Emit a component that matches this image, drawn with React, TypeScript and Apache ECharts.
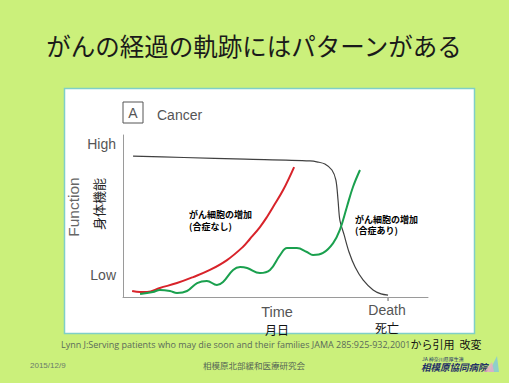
import React, { useEffect, useRef } from "react";
import * as echarts from "echarts";

const titleText = "がんの経過の軌跡にはパターンがある";
const panelLabel = "A";
const panelTitle = "Cancer";
const yHigh = "High";
const yLow = "Low";
const yName = "Function";
const yNameJa = "身体機能";
const xTime = "Time";
const xTimeJa = "月日";
const xDeath = "Death";
const xDeathJa = "死亡";
const noteLeft = ["がん細胞の増加", "(合症なし)"];
const noteRight = ["がん細胞の増加", "(合症あり)"];
const sourceEn = "Lynn J:Serving patients who may die soon and their families JAMA 285:925-932,2001";
const sourceJa = "から引用  改変";
const dateText = "2015/12/9";
const orgText = "相模原北部緩和医療研究会";
const hospitalSmall = "JA 神奈川県厚生連";
const hospitalName = "相模原協同病院";

// trajectory [time, function]
const blackLine = [
  [3.3, 87.0], [20, 86.1], [40, 85.1], [61.3, 84.0], [63.9, 83.3], [66.2, 82.1],
  [68.5, 78.4], [69.8, 72.2], [70.5, 59.9], [71.1, 47.5], [72.5, 38.3],
  [74.1, 27.8], [76.1, 18.5], [78.7, 10.5], [82.0, 4.3], [84.6, 1.9], [86.9, 1.2],
];
const redLine = [
  [3.0, 3.7], [5.6, 3.1], [7.9, 3.1], [12.1, 5.6], [17.7, 8.6], [23.0, 12.3],
  [28.5, 16.7], [34.1, 22.8], [39.3, 30.9], [41.6, 35.8], [44.9, 43.2],
  [47.2, 49.4], [49.2, 55.6], [52.5, 66.0], [56.1, 80.2],
];
const greenLine = [
  [5.6, 1.9], [9.8, 3.1], [12.1, 4.3], [15.4, 3.7], [17.7, 2.5], [21.0, 3.7],
  [24.3, 8.6], [27.5, 9.9], [30.8, 7.4], [32.8, 9.3], [36.1, 16.7], [38.4, 18.5],
  [40.7, 17.9], [44.9, 14.8], [48.2, 16.7], [51.5, 25.9], [53.8, 30.2],
  [57.0, 30.2], [60.3, 27.8], [62.3, 25.9], [65.6, 27.2], [68.9, 33.3],
  [71.1, 41.4], [73.4, 55.6], [75.4, 67.9], [77.7, 78.4],
];
const deathTime = 86.9;

const JP = "'Noto Sans CJK JP', sans-serif";
const LAT = "'Liberation Sans', Arial, sans-serif";

export default function App() {
  const ref = useRef<HTMLDivElement>(null);
  useEffect(() => {
    const chart = echarts.init(ref.current!, null, { renderer: "svg" });
    const gridLeft = 123, gridRight = 81, gridTop = 135, gridBottom = 86;
    const W = 509, H = 383;
    const plotW = W - gridLeft - gridRight;
    const axisY = H - gridBottom;
    const deathX = gridLeft + (deathTime / 100) * plotW;
    const noteRich = { n: { font: `bold 9px ${JP}`, fill: "#000", lineHeight: 11.5 } };
    const txt = (x: number, y: number, text: string, font: string, fill: string,
      align = "center") => ({
      type: "text", x, y,
      style: { text, font, fill, textAlign: align, textVerticalAlign: "middle" },
    });
    chart.setOption({
      animation: false,
      backgroundColor: "#cbf07b",
      grid: { left: gridLeft, right: gridRight, top: gridTop, bottom: gridBottom },
      xAxis: {
        type: "value", min: 0, max: 100,
        axisLine: { show: true, lineStyle: { color: "#9a9a9a", width: 1 } },
        axisTick: { show: false }, axisLabel: { show: false }, splitLine: { show: false },
      },
      yAxis: {
        type: "value", min: 0, max: 100,
        axisLine: { show: true, lineStyle: { color: "#9a9a9a", width: 1 } },
        axisTick: { show: false }, axisLabel: { show: false }, splitLine: { show: false },
      },
      series: [
        { type: "line", data: blackLine, smooth: 0.3, showSymbol: false, z: 3,
          lineStyle: { color: "#404040", width: 1.2 } },
        { type: "line", data: redLine, smooth: 0.4, showSymbol: false, z: 4,
          lineStyle: { color: "#d8232a", width: 2 } },
        { type: "line", data: greenLine, smooth: 0.4, showSymbol: false, z: 4,
          lineStyle: { color: "#1aa04e", width: 2 } },
      ],
      graphic: [
        { type: "rect", z: -10, shape: { x: 64.5, y: 88.5, width: 410, height: 245 },
          style: { fill: "#ffffff", stroke: "#7fcfc8", lineWidth: 1.5 } },
        txt(254, 45, titleText, `24.5px ${JP}`, "#1a1a1a"),
        { type: "rect", shape: { x: 123, y: 102, width: 20, height: 21 },
          style: { fill: "none", stroke: "#555", lineWidth: 1 } },
        txt(133, 113, panelLabel, `14px ${LAT}`, "#555"),
        txt(157, 115, panelTitle, `14px ${LAT}`, "#555", "left"),
        txt(116, 144, yHigh, `14px ${LAT}`, "#555", "right"),
        txt(116, 275, yLow, `14px ${LAT}`, "#555", "right"),
        { ...txt(73, 207, yName, `15.5px ${LAT}`, "#666"), rotation: Math.PI / 2 },
        { ...txt(98, 204, yNameJa, `13px ${JP}`, "#222"), rotation: Math.PI / 2 },
        { type: "line", shape: { x1: deathX, y1: axisY, x2: deathX, y2: axisY + 4 },
          style: { stroke: "#666", lineWidth: 1 } },
        txt(277, 312, xTime, `14.5px ${LAT}`, "#555"),
        txt(277, 329, xTimeJa, `12px ${JP}`, "#111"),
        txt(387, 310, xDeath, `14px ${LAT}`, "#555"),
        txt(387, 327, xDeathJa, `12px ${JP}`, "#111"),
        { type: "text", x: 189, y: 220.5, style: { text: `{n|${noteLeft[0]}}\n{n|${noteLeft[1]}}`,
          textAlign: "left", textVerticalAlign: "middle", rich: noteRich } },
        { type: "text", x: 355, y: 225, style: { text: `{n|${noteRight[0]}}\n{n|${noteRight[1]}}`,
          textAlign: "left", textVerticalAlign: "middle", rich: noteRich } },
        { type: "text", x: 61, y: 344, style: {
          text: `{en|${sourceEn}}{ja|${sourceJa}}`, textAlign: "left", textVerticalAlign: "middle",
          rich: {
            en: { font: `9px 'Open Sans', ${LAT}`, fill: "#5a6a5a" },
            ja: { font: `11px ${JP}`, fill: "#111" },
          } } },
        txt(30, 365, dateText, `8px ${LAT}`, "#6a7a6a", "left"),
        txt(254, 365, orgText, `8.5px ${JP}`, "#556655"),
        txt(422, 358, hospitalSmall, `5px ${JP}`, "#223366", "left"),
        txt(421, 367, hospitalName, `italic bold 9.5px ${JP}`, "#1f2f66", "left"),
        { type: "polygon", shape: { points: [[489, 372], [497, 356], [499, 372]] },
          style: { fill: "#8fd0c8" } },
        { type: "polygon", shape: { points: [[484, 372], [492, 362], [494, 372]] },
          style: { fill: "#e8a8c8", opacity: 0.8 } },
      ],
    });
    return () => chart.dispose();
  }, []);
  return (
    <div ref={ref} style={{ position: "fixed", left: 0, top: 0, width: 509, height: 383 }} />
  );
}
